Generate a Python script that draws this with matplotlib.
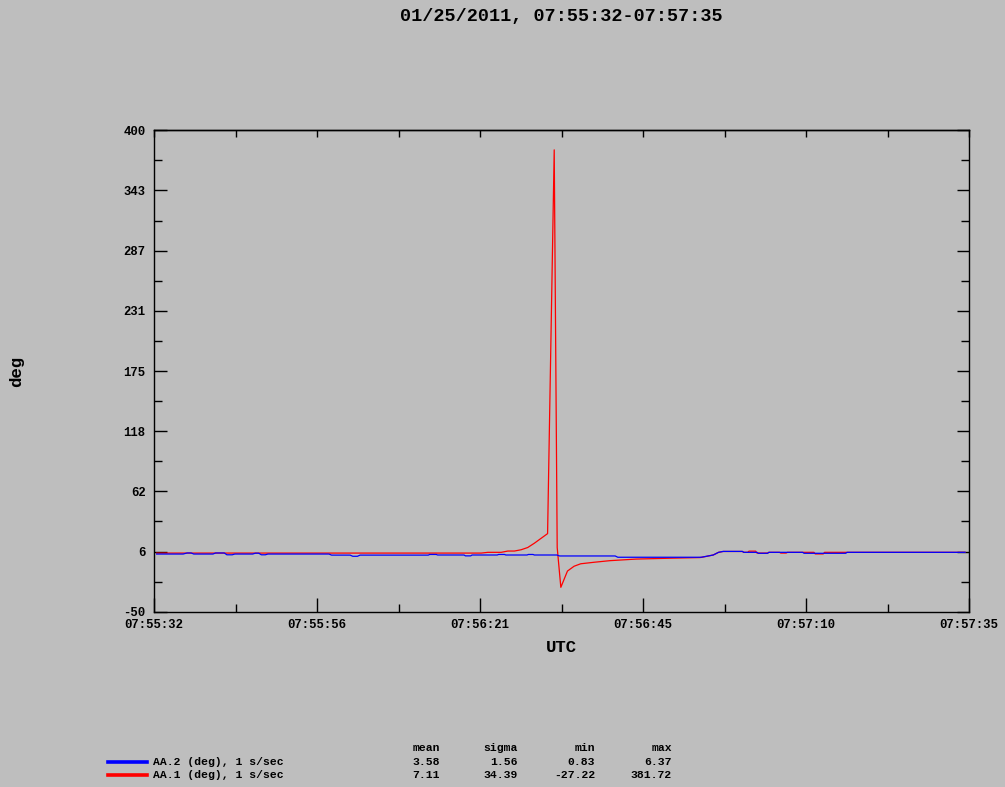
import numpy as np
import matplotlib
matplotlib.use("Agg")
import matplotlib.pyplot as plt
from matplotlib.ticker import FixedLocator, NullFormatter

# ---- data (seconds after 07:55:32, value in deg) ----
red_t = [0.4, 49.4, 50.4, 52.4, 53.4, 54.4, 55.4, 56.4, 57.4, 58.4, 59.4, 60.4, 60.85, 61.4,
         62.4, 63.4, 64.4, 66.4, 68.8, 72.8, 77.9, 82.4, 83.2, 84.4, 85.2, 85.9, 88.8, 89.0,
         89.6, 89.8, 90.8, 91.0, 92.6, 92.8, 94.4, 94.6, 95.4, 95.6, 99.6, 99.8, 101.0, 101.2,
         121.4, 122.4]
red_v = [4.8, 4.8, 5.5, 5.5, 6.7, 6.7, 7.9, 10.0, 14.0, 18.5, 23.0, 381.72, 10.0, -27.22,
         -12.0, -7.5, -5.2, -3.8, -2.3, -0.8, 0.0, 0.6, 1.5, 3.0, 5.5, 6.3, 6.3, 5.5,
         5.5, 6.6, 6.6, 4.8, 4.8, 5.5, 5.5, 4.8, 4.8, 5.5, 5.5, 4.0, 4.0, 5.5,
         5.5, 5.5]

blue_t = [0.4, 4.4, 5.0, 5.6, 6.0, 8.9, 9.3, 10.6, 11.0, 11.8, 12.2, 14.9, 15.3, 15.8, 16.2,
          16.8, 17.2, 26.4, 26.8, 29.6, 30.0, 30.7, 31.1, 41.4, 41.6, 42.6, 42.8, 46.8, 47.0,
          47.8, 48.0, 51.8, 52.0, 52.9, 53.1, 56.3, 56.5, 57.2, 57.4, 60.8, 61.2, 69.6, 70.0,
          82.6, 84.4, 85.2, 85.9, 88.8, 89.0, 91.0, 91.2, 92.6, 92.8, 97.9, 98.1, 104.4,
          104.6, 122.4]
blue_v = [3.9, 3.9, 4.9, 4.9, 3.9, 3.9, 4.9, 4.9, 3.2, 3.2, 3.9, 3.9, 4.7, 4.7, 3.2,
          3.2, 3.9, 3.9, 2.9, 2.9, 1.8, 1.8, 2.9, 2.9, 3.5, 3.5, 3.0, 3.0, 2.2,
          2.2, 3.0, 3.0, 3.5, 3.5, 3.0, 3.0, 3.5, 3.5, 3.0, 3.0, 2.1, 2.1, 0.9,
          0.9, 3.0, 5.5, 6.37, 6.37, 5.5, 5.5, 4.6, 4.6, 5.5, 5.5, 4.6, 4.6,
          5.5, 5.5]

x_major_labels = ["07:55:32", "07:55:56", "07:56:21", "07:56:45", "07:57:10", "07:57:35"]
y_tick_labels = ["-50", "6", "62", "118", "175", "231", "287", "343", "400"]
title = "01/25/2011, 07:55:32-07:57:35"
legend_labels = ["AA.2 (deg), 1 s/sec", "AA.1 (deg), 1 s/sec"]
stat_names = ["mean", "sigma", "min", "max"]
stats = [["3.58", "1.56", "0.83", "6.37"],
         ["7.11", "34.39", "-27.22", "381.72"]]

BG = "#bebebe"
FONT = "Liberation Mono"
W, H = 1005, 787

fig = plt.figure(figsize=(W / 100, H / 100), dpi=100, facecolor=BG)
ax = fig.add_axes([154 / W, 1 - 611.7 / H, (969 - 154) / W, (611.7 - 130.3) / H])
ax.set_facecolor(BG)

ax.plot(red_t, red_v, color="#ff0000", lw=0.9)
ax.plot(blue_t, blue_v, color="#0000ff", lw=0.9)

ax.set_xlim(0, 123)
ax.set_ylim(-50, 400)

xmaj = np.linspace(0, 123, 6)
xmin = np.linspace(0, 123, 11)
ymaj = np.linspace(-50, 400, 9)
ymin = np.linspace(-50, 400, 17)
ax.xaxis.set_major_locator(FixedLocator(xmaj))
ax.xaxis.set_minor_locator(FixedLocator(xmin))
ax.yaxis.set_major_locator(FixedLocator(ymaj))
ax.yaxis.set_minor_locator(FixedLocator(ymin))
ax.set_xticklabels(x_major_labels)
ax.set_yticklabels(y_tick_labels)
ax.yaxis.set_minor_formatter(NullFormatter())
ax.xaxis.set_minor_formatter(NullFormatter())

for lab in ax.get_xticklabels() + ax.get_yticklabels():
    lab.set_fontfamily(FONT)
    lab.set_fontweight("bold")
    lab.set_fontsize(8.8)

ax.tick_params(axis="x", which="major", direction="in", length=10, width=1, pad=5,
               bottom=True, top=False, colors="black")
ax.tick_params(axis="x", which="minor", direction="in", length=6, width=1,
               bottom=True, top=False)
ax.tick_params(axis="y", which="major", direction="in", length=9, width=1, pad=6,
               left=True, right=True)
ax.tick_params(axis="y", which="minor", direction="in", length=6, width=1,
               left=True, right=True)

sec = ax.secondary_xaxis("top")
sec.xaxis.set_major_locator(FixedLocator(xmin))
sec.xaxis.set_major_formatter(NullFormatter())
sec.tick_params(axis="x", which="major", direction="in", length=5, width=1)
sec.tick_params(axis="x", which="minor", length=0)

for sp in ax.spines.values():
    sp.set_linewidth(1)
for sp in sec.spines.values():
    sp.set_linewidth(1)

def ftext(x, y, s, size, ha="left", va="center", rot=0):
    fig.text(x / W, 1 - y / H, s, fontsize=size, ha=ha, va=va, rotation=rot,
             fontfamily=FONT, fontweight="bold", color="black")

ftext(561, 17, title, 13.3, ha="center")
ftext(561, 647, "UTC", 12.5, ha="center")
ftext(17, 371, "deg", 12.5, ha="center", rot=90)

# legend / stats table
col_right = [440, 518, 595, 672]
for name, xr in zip(stat_names, col_right):
    ftext(xr, 748, name, 8.2, ha="right")
rows_y = [762, 775]
colors = ["#0000ff", "#ff0000"]
for lab, row, yy, c in zip(legend_labels, stats, rows_y, colors):
    fig.add_artist(plt.Line2D([108 / W, 147 / W], [1 - yy / H, 1 - yy / H],
                              color=c, lw=2.6, transform=fig.transFigure))
    ftext(153, yy, lab, 8.2)
    for val, xr in zip(row, col_right):
        ftext(xr, yy, val, 8.2, ha="right")

fig.savefig("out.png", dpi=100, facecolor=BG)
